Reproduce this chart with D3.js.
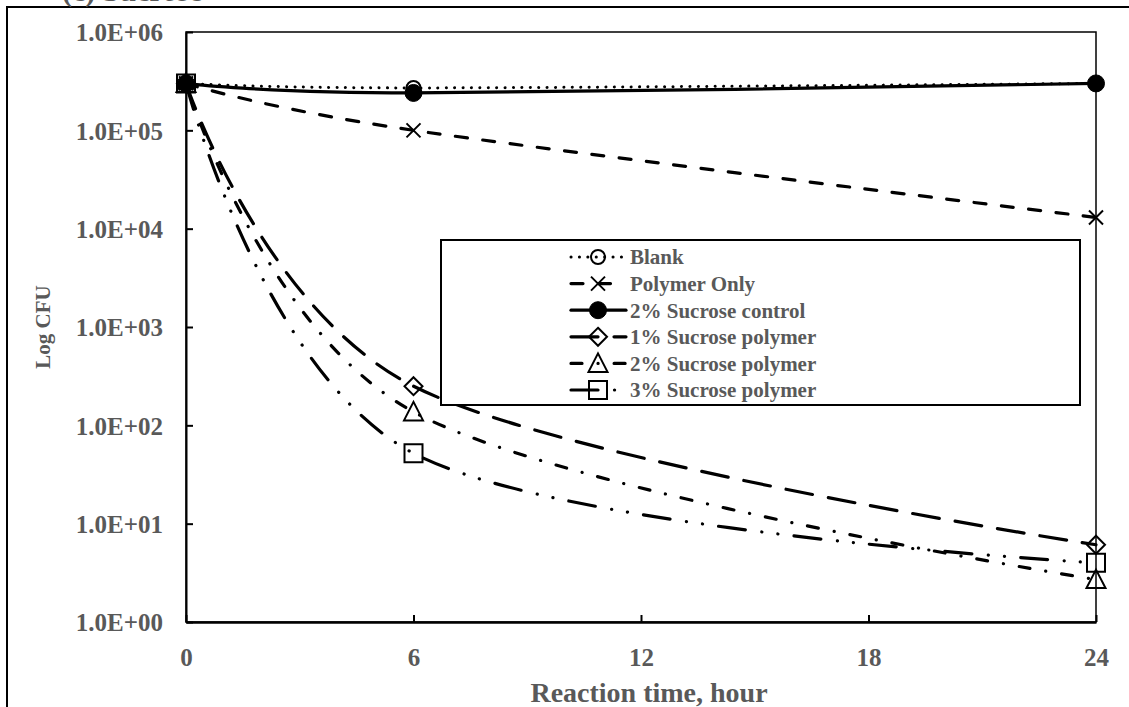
<!DOCTYPE html>
<html>
<head>
<meta charset="utf-8">
<script src="https://cdn.jsdelivr.net/npm/d3@7"></script>
<style>
  html, body { margin: 0; padding: 0; background: #fff; }
  svg { display: block; }
  text { font-family: "Liberation Serif", "Times New Roman", serif; font-weight: bold; fill: #595959; }
</style>
</head>
<body>
<svg id="chart" width="1129" height="707"></svg>
<script>
// Sampling times (hours)
const hours = [0, 6, 24];

// Colony counts (CFU) for each treatment
const blank          = [3.0e5, 2.7e5, 3.0e5];
const polymerOnly    = [3.0e5, 1.0e5, 1.3e4];
const sucroseControl = [3.0e5, 2.4e5, 3.0e5];
const sucrose1       = [3.0e5, 250, 6.1];
const sucrose2       = [3.0e5, 137, 2.7];
const sucrose3       = [3.0e5, 52, 4.0];

const seriesNames = ["Blank", "Polymer Only", "2% Sucrose control",
                     "1% Sucrose polymer", "2% Sucrose polymer", "3% Sucrose polymer"];

// Axis ticks
const xTicks = [0, 6, 12, 18, 24];
const yTicks = [1, 10, 100, 1000, 10000, 100000, 1000000];
const yTickLabels = ["1.0E+00", "1.0E+01", "1.0E+02", "1.0E+03", "1.0E+04", "1.0E+05", "1.0E+06"];

const svg = d3.select("#chart");

// Plot region
const plotLeft = 186, plotRight = 1096, plotTop = 32, plotBottom = 622;

const x = d3.scaleLinear().domain([0, 24]).range([plotLeft, plotRight]);
const y = d3.scaleLog().domain([1, 1e6]).range([plotBottom, plotTop]);

// Outer frame of the figure
svg.append("rect")
  .attr("x", 7).attr("y", 7).attr("width", 1140).attr("height", 720)
  .attr("fill", "none").attr("stroke", "#000").attr("stroke-width", 2);

// Panel title (sits above the frame edge)
svg.append("text")
  .attr("x", 62).attr("y", 1)
  .attr("font-size", 30)
  .text("(c) Sucrose");

// Plot border
svg.append("rect")
  .attr("x", plotLeft).attr("y", plotTop)
  .attr("width", plotRight - plotLeft).attr("height", plotBottom - plotTop)
  .attr("fill", "none").attr("stroke", "#000").attr("stroke-width", 1.5);

// Axes with inward ticks
const yAxis = d3.axisLeft(y).tickValues(yTicks).tickSizeInner(-7).tickSizeOuter(0)
  .tickFormat((d, i) => yTickLabels[i]);
const gy = svg.append("g").attr("transform", `translate(${plotLeft},0)`).call(yAxis);
gy.select(".domain").attr("stroke", "#000").attr("stroke-width", 2);
gy.selectAll(".tick line").attr("stroke", "#000").attr("stroke-width", 2);
gy.selectAll(".tick text")
  .attr("x", -23).attr("dy", "0.35em")
  .attr("font-size", 25).attr("fill", "#595959");

const xAxis = d3.axisBottom(x).tickValues(xTicks).tickSizeInner(-7).tickSizeOuter(0);
const gx = svg.append("g").attr("transform", `translate(0,${plotBottom})`).call(xAxis);
gx.select(".domain").attr("stroke", "#000").attr("stroke-width", 2.5);
gx.selectAll(".tick line").attr("stroke", "#000").attr("stroke-width", 2);
gx.selectAll(".tick text")
  .attr("y", 26).attr("dy", "0.71em")
  .attr("font-size", 25).attr("fill", "#595959");
gy.attr("font-family", null);
gx.attr("font-family", null);

// Axis titles
svg.append("text")
  .attr("x", 649).attr("y", 702)
  .attr("text-anchor", "middle").attr("font-size", 28)
  .text("Reaction time, hour");
svg.append("text")
  .attr("transform", `translate(50,${(plotTop + plotBottom) / 2}) rotate(-90)`)
  .attr("text-anchor", "middle").attr("font-size", 21)
  .text("Log CFU");

// Marker shapes
function markerPath(kind) {
  switch (kind) {
    case "diamond": return "M0,-9L9,0L0,9L-9,0Z";
    case "triangle": return "M0,-10L9.5,8.5L-9.5,8.5Z";
    case "square": return "M-9,-9H9V9H-9Z";
    case "x": return "M-7,-7L7,7M-7,7L7,-7";
    default: return null;
  }
}

const styles = [
  { values: blank,          dash: "0.1 8.3",                  lw: 3,   cap: "round", marker: "circle-open" },
  { values: polymerOnly,    dash: "12 15.5",                  lw: 3.2, cap: "round", marker: "x" },
  { values: sucroseControl, dash: null,                       lw: 3.2, cap: "round", marker: "circle-filled" },
  { values: sucrose1,       dash: "27 16",                    lw: 3.2, cap: "round", marker: "diamond" },
  { values: sucrose2,       dash: "11 16 0.1 16",             lw: 3.2, cap: "round", marker: "triangle" },
  { values: sucrose3,       dash: "27 16.5 0.1 16 0.1 16.2",  lw: 3.2, cap: "round", marker: "square" }
];

const line = d3.line()
  .x(d => x(d[0]))
  .y(d => y(d[1]))
  .curve(d3.curveCardinal.tension(0));

function drawMarker(g, kind, cx, cy) {
  if (kind === "circle-open") {
    g.append("circle").attr("cx", cx).attr("cy", cy).attr("r", 7)
      .attr("fill", "none").attr("stroke", "#000").attr("stroke-width", 2);
  } else if (kind === "circle-filled") {
    g.append("circle").attr("cx", cx).attr("cy", cy).attr("r", 8.5)
      .attr("fill", "#000").attr("stroke", "#000").attr("stroke-width", 1);
  } else {
    g.append("path").attr("d", markerPath(kind))
      .attr("transform", `translate(${cx},${cy})`)
      .attr("fill", "none").attr("stroke", "#000").attr("stroke-width", 2);
  }
}

const plot = svg.append("g");
styles.forEach(s => {
  const pts = hours.map((h, i) => [h, s.values[i]]);
  plot.append("path")
    .attr("d", line(pts))
    .attr("fill", "none")
    .attr("stroke", "#000")
    .attr("stroke-width", s.lw)
    .attr("stroke-linecap", s.cap)
    .attr("stroke-dasharray", s.dash);
  pts.forEach(p => drawMarker(plot, s.marker, x(p[0]), y(p[1])));
});

// Legend
const lg = svg.append("g");
lg.append("rect")
  .attr("x", 441).attr("y", 240).attr("width", 639).attr("height", 165)
  .attr("fill", "#fff").attr("stroke", "#000").attr("stroke-width", 2);
const rowY0 = 257, rowStep = 26.6;
styles.forEach((s, i) => {
  const cy = rowY0 + i * rowStep;
  lg.append("line")
    .attr("x1", 571).attr("x2", 626).attr("y1", cy).attr("y2", cy)
    .attr("stroke", "#000").attr("stroke-width", s.lw)
    .attr("stroke-linecap", s.cap)
    .attr("stroke-dasharray", s.dash);
  drawMarker(lg, s.marker, 598, cy);
  lg.append("text")
    .attr("x", 630).attr("y", cy).attr("dy", "0.35em")
    .attr("font-size", 21)
    .text(seriesNames[i]);
});
</script>
</body>
</html>
